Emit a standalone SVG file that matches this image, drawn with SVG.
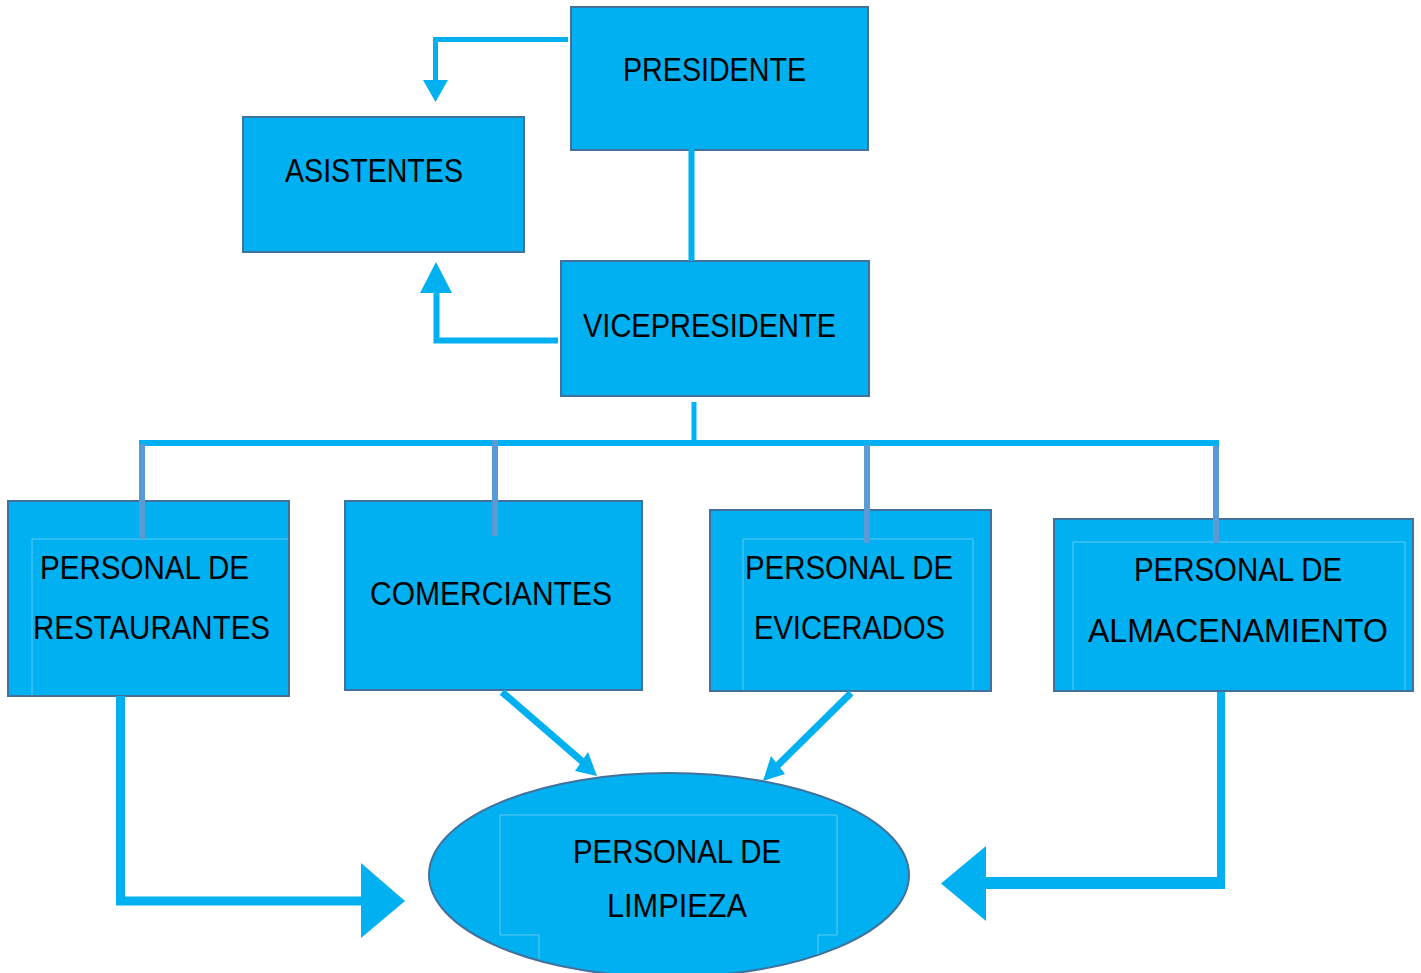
<svg xmlns="http://www.w3.org/2000/svg" width="1421" height="973" viewBox="0 0 1421 973">
  <style>
    .box { fill: #00B0F0; stroke: #41719C; stroke-width: 2; }
    .inner { fill: none; stroke: #5CCBF5; stroke-width: 1; }
    .lbl { font-family: "Liberation Sans", Arial, sans-serif; font-size: 33.5px; fill: #000; }
    .con { fill: none; stroke: #00B0F0; stroke-linecap: butt; stroke-linejoin: miter; }
    .drop { fill: none; stroke: #5B9BD5; stroke-width: 6; }
    .head { fill: #00B0F0; }
  </style>
  <rect width="1421" height="973" fill="#FFFFFF"/>

  <g id="presidente">
    <rect class="box" x="571" y="7" width="297" height="143"/>
    <text class="lbl" x="623" y="81" textLength="183" lengthAdjust="spacingAndGlyphs">PRESIDENTE</text>
  </g>

  <g id="asistentes">
    <rect class="box" x="243" y="117" width="281" height="135"/>
    <text class="lbl" x="285" y="182" textLength="178" lengthAdjust="spacingAndGlyphs">ASISTENTES</text>
  </g>

  <g id="vicepresidente">
    <rect class="box" x="561" y="261" width="308" height="135"/>
    <text class="lbl" x="583" y="337" textLength="253" lengthAdjust="spacingAndGlyphs">VICEPRESIDENTE</text>
  </g>

  <g id="restaurantes">
    <rect class="box" x="8" y="501" width="281" height="195"/>
    <polyline class="inner" points="32,695 32,539 288,539"/>
    <text class="lbl" x="40" y="579" textLength="209" lengthAdjust="spacingAndGlyphs">PERSONAL DE</text>
    <text class="lbl" x="33" y="639" textLength="237" lengthAdjust="spacingAndGlyphs">RESTAURANTES</text>
  </g>

  <g id="comerciantes">
    <rect class="box" x="345" y="501" width="297" height="189"/>
    <text class="lbl" x="370" y="605" textLength="242" lengthAdjust="spacingAndGlyphs">COMERCIANTES</text>
  </g>

  <g id="evicerados">
    <rect class="box" x="710" y="510" width="281" height="181"/>
    <polyline class="inner" points="743,690 743,539 973,539 973,690"/>
    <text class="lbl" x="745" y="579" textLength="208" lengthAdjust="spacingAndGlyphs">PERSONAL DE</text>
    <text class="lbl" x="754" y="639" textLength="191" lengthAdjust="spacingAndGlyphs">EVICERADOS</text>
  </g>

  <g id="almacenamiento">
    <rect class="box" x="1054" y="519" width="359" height="172"/>
    <polyline class="inner" points="1073,690 1073,542 1405,542 1405,690"/>
    <text class="lbl" x="1134" y="581" textLength="208" lengthAdjust="spacingAndGlyphs">PERSONAL DE</text>
    <text class="lbl" x="1088" y="642" textLength="300" lengthAdjust="spacingAndGlyphs">ALMACENAMIENTO</text>
  </g>

  <g id="limpieza">
    <ellipse class="box" cx="669" cy="875" rx="240" ry="102"/>
    <polyline class="inner" points="539,959 539,935 500,935 500,815 837,815 837,935 818,935 818,954"/>
    <text class="lbl" x="573" y="863" textLength="208" lengthAdjust="spacingAndGlyphs">PERSONAL DE</text>
    <text class="lbl" x="607" y="917" textLength="140" lengthAdjust="spacingAndGlyphs">LIMPIEZA</text>
  </g>

  <g id="connectors">
    <!-- Presidente -> Asistentes -->
    <polyline class="con" stroke-width="5" points="568,39.5 435.5,39.5 435.5,81"/>
    <polygon class="head" points="423,80 448,80 435.5,102"/>
    <!-- Presidente -> Vicepresidente -->
    <line class="con" stroke-width="6" x1="691.5" y1="146" x2="691.5" y2="261"/>
    <!-- Vicepresidente -> Asistentes -->
    <polyline class="con" stroke-width="6" points="558,340.5 436.5,340.5 436.5,292"/>
    <polygon class="head" points="420,293 452,293 436,262"/>
    <!-- Vicepresidente -> bus -->
    <line class="con" stroke-width="5" x1="694" y1="402" x2="694" y2="443"/>
    <line class="con" stroke-width="6" x1="139" y1="443" x2="1219" y2="443"/>
    <line class="drop" x1="142" y1="444" x2="142" y2="539"/>
    <line class="drop" x1="495" y1="440" x2="495" y2="536"/>
    <line class="drop" x1="867" y1="445" x2="867" y2="543"/>
    <line class="drop" x1="1216" y1="446" x2="1216" y2="543"/>
    <!-- Restaurantes -> Limpieza -->
    <rect x="116" y="696" width="9" height="26" fill="#00B0F0"/>
    <polyline class="con" stroke-width="9" points="120.5,697 120.5,901 362,901"/>
    <polygon class="head" points="361,863 361,938 405,901"/>
    <!-- Comerciantes -> Limpieza -->
    <line class="con" stroke-width="7" x1="502" y1="692" x2="584" y2="763"/>
    <polygon class="head" points="597,776 575,771 588,752"/>
    <!-- Evicerados -> Limpieza -->
    <line class="con" stroke-width="7" x1="851" y1="693" x2="776" y2="767"/>
    <polygon class="head" points="763,781 771,756 785,774"/>
    <!-- Almacenamiento -> Limpieza -->
    <polyline class="con" stroke-width="8" points="1221,692 1221,883 985,883"/>
    <rect x="985" y="877" width="240" height="12" fill="#00B0F0"/>
    <polygon class="head" points="986,846 986,921 941,883.5"/>
  </g>
</svg>
